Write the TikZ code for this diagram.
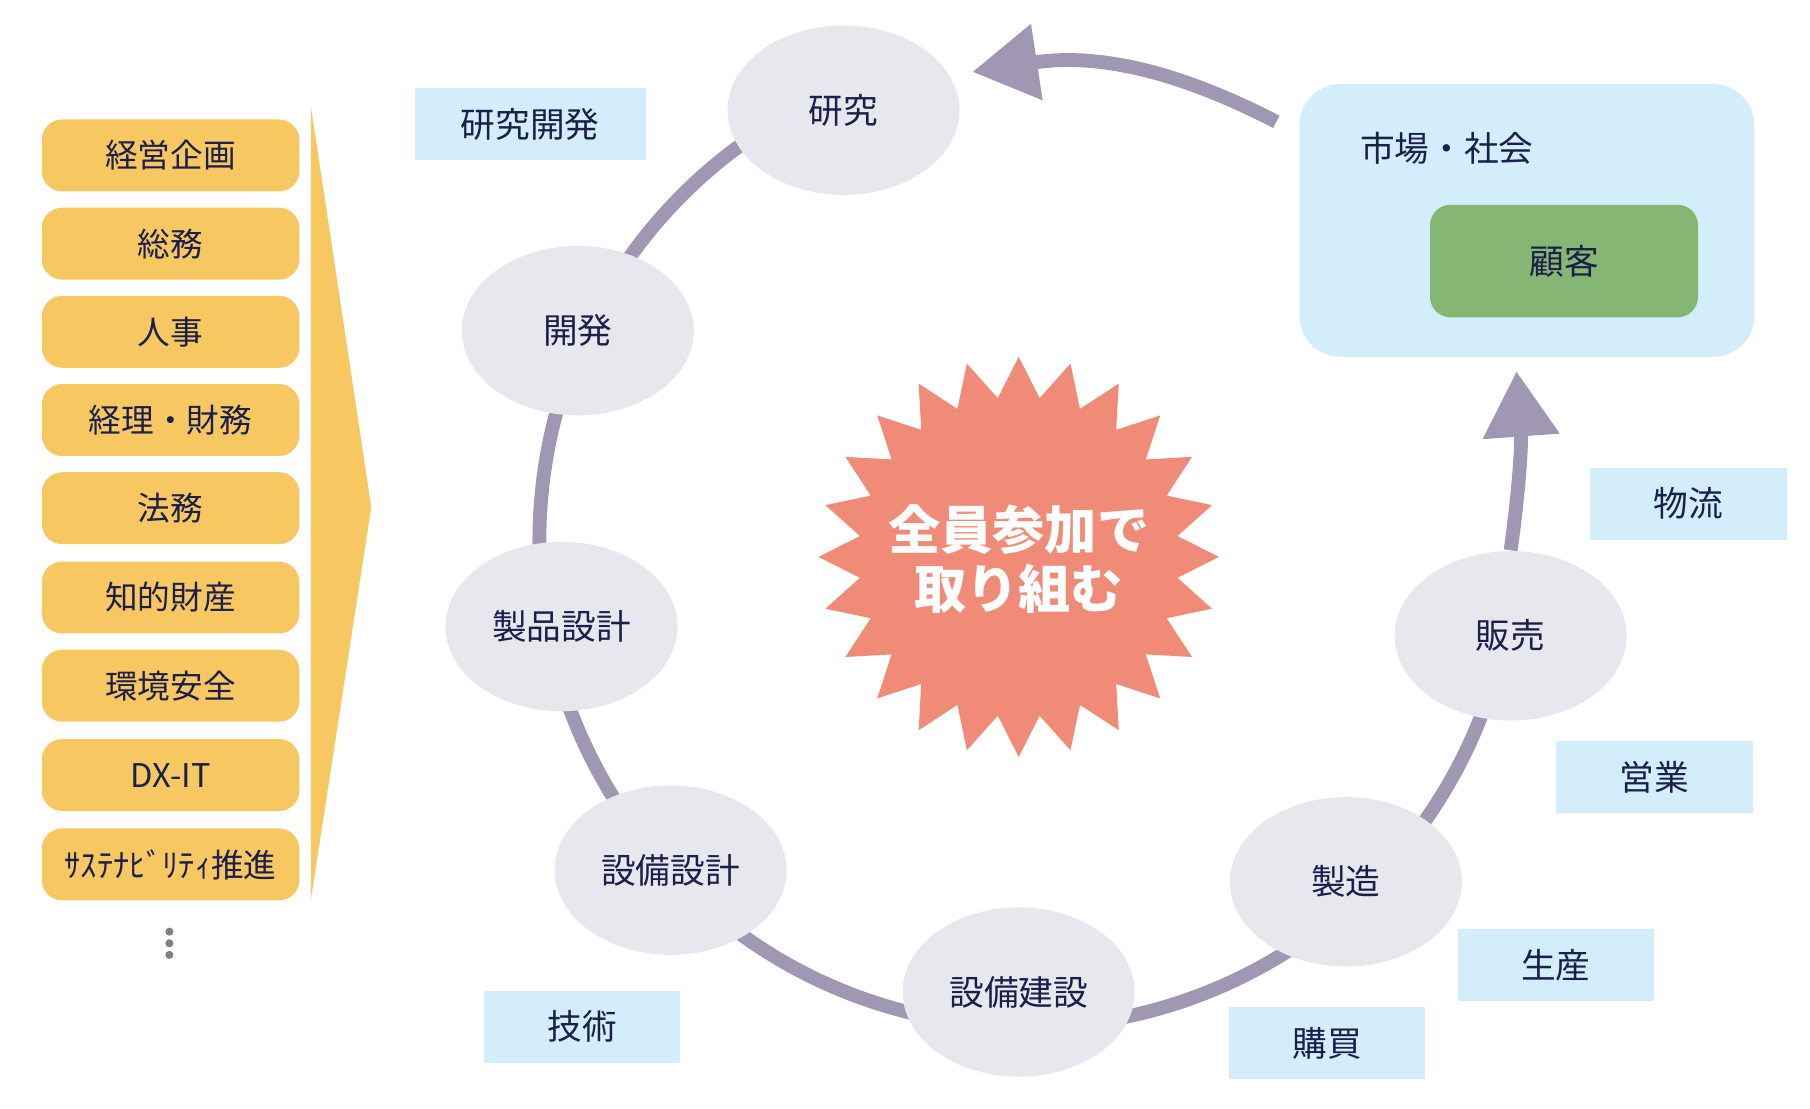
\documentclass[tikz,border=0pt]{standalone}
\usepackage{fontspec}
\setmainfont{Noto Sans CJK JP}
\usetikzlibrary{arrows.meta,shapes.geometric,shapes.misc}
\definecolor{navy}{HTML}{1B1F4B}
\definecolor{ybox}{HTML}{F7C862}
\definecolor{ell}{HTML}{E8E7EE}
\definecolor{ring}{HTML}{A097B3}
\definecolor{lblue}{HTML}{D3EEFA}
\definecolor{custgreen}{HTML}{86B673}
\definecolor{starc}{HTML}{F08B78}
\tikzset{
 x=0.01cm,y=-0.01cm,
 stage/.style={ellipse,fill=ell,minimum width=200*0.01cm,minimum height=146*0.01cm,inner sep=0pt,text=navy,font=\fontsize{8.5}{10}\selectfont},
 lab/.style={fill=lblue,minimum width=169*0.01cm,minimum height=62*0.01cm,inner sep=0pt,text=navy,font=\fontsize{8.5}{10}\selectfont},
 ringline/.style={draw=ring,line width=3.4pt},
 ringarrow/.style={ringline,-{Triangle[width=18pt,length=16pt]}},
}
\begin{document}
\begin{tikzpicture}
\useasboundingbox (0,0) rectangle (1560,955);
% chevron
\fill[ybox] (268,92) -- (320,437) -- (268,775) -- cycle;
\foreach \t/\y [count=\i] in {経営企画/134,総務/210,人事/286,経理・財務/362,法務/438,知的財産/515,環境安全/591,DX-IT/668,ｻｽﾃﾅﾋﾞﾘﾃｨ推進/745}{
  \node[fill=ybox,rounded corners=5pt,minimum width=222*0.01cm,minimum height=62*0.01cm,inner sep=0pt,text=navy,font=\fontsize{8}{9}\selectfont] (d\i) at (147,\y) {\t};
}
\foreach \y in {803,813,823} \fill[gray] (146,\y) circle (3.5);
% ring (behind stages)
\coordinate (c) at (885,465);
\draw[ringline] (c) ++(12:420) arc[start angle=12,end angle=247,radius=420];
% star
\node[shape=star,star points=24,star point ratio=1.25,fill=starc,minimum size=345*0.01cm,inner sep=0pt] (st) at (878,480) {};
\node[text=white,font=\bfseries\fontsize{12.8}{14.5}\selectfont,align=center] (stt) at (878,482) {全員参加で\\取り組む};
% market
\node[fill=lblue,rounded corners=10pt,minimum width=392*0.01cm,minimum height=235*0.01cm,inner sep=0pt] (mk) at (1316,190) {};
\node[text=navy,font=\fontsize{8.5}{10}\selectfont] (mkt) at (1247,128) {市場・社会};
\node[fill=custgreen,rounded corners=5pt,minimum width=231*0.01cm,minimum height=97*0.01cm,inner sep=0pt,text=navy,font=\fontsize{8.5}{10}\selectfont] (cu) at (1348,225) {顧客};
% stages
\node[stage] (s1) at (727,95) {研究};
\node[stage] (s2) at (498,285) {開発};
\node[stage] (s3) at (484,540) {製品設計};
\node[stage] (s4) at (578,750) {設備設計};
\node[stage] (s5) at (878,855) {設備建設};
\node[stage] (s6) at (1160,760) {製造};
\node[stage] (s7) at (1302,548) {販売};
\coordinate (a1) at (1307,320);
\coordinate (a2s) at (1100,105);
\coordinate (a2e) at (838,62);
\draw[ringarrow] (s7.north) to[bend right=6] (a1);
\draw[ringarrow] (a2s) to[bend right=18] (a2e);
% labels
\node[lab,minimum width=199*0.01cm] (l1) at (457,107) {研究開発};
\node[lab,minimum width=170*0.01cm] (l2) at (1455,434) {物流};
\node[lab] (l3) at (1426,670) {営業};
\node[lab] (l4) at (1341,832) {生産};
\node[lab] (l5) at (1144,899) {購買};
\node[lab] (l6) at (502,885) {技術};
\end{tikzpicture}
\end{document}
